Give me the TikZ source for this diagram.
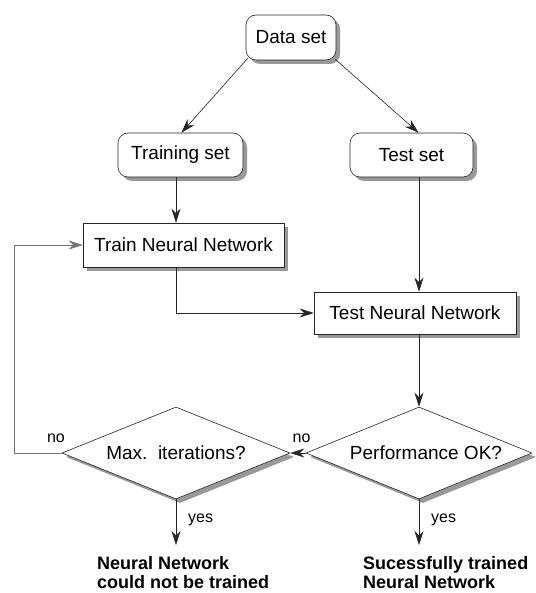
\documentclass[tikz,border=0pt]{standalone}
\usepackage{fontspec}
\setmainfont{Liberation Sans}
\usetikzlibrary{shapes.geometric,shadows,arrows.meta,calc}
\begin{document}
\begin{tikzpicture}[x=1pt,y=-1pt,
  basebox/.style={draw=black!85, line width=0.6pt, fill=white,
    drop shadow={shadow xshift=4pt, shadow yshift=-4pt, fill=black!40, opacity=1}},
  roundbox/.style={basebox, rounded corners=10pt, inner sep=0pt, font=\fontsize{19}{22}\selectfont},
  sqbox/.style={basebox, inner sep=0pt, font=\fontsize{19}{22}\selectfont},
  decision/.style={basebox, diamond, aspect=2.5, inner sep=0pt, font=\fontsize{19}{22}\selectfont},
  conn/.style={line width=0.6pt, draw=black!85, -{Stealth[length=14pt,width=9pt,inset=4.5pt]}},
  loopline/.style={conn, draw=black!55},
  lbl/.style={font=\fontsize{16}{18}\selectfont, inner sep=0pt, anchor=base},
  result/.style={font=\bfseries\fontsize{18}{19}\selectfont, align=left, inner sep=0pt, anchor=north west}]
\useasboundingbox (0,0) rectangle (535,593);
\fill[white] (0,0) rectangle (535,593);

\node[roundbox, minimum width=90pt, minimum height=45pt] (data) at (291,37.5) {Data set};
\node[roundbox, minimum width=125pt, minimum height=44pt] (trainset) at (180.5,155) {Training set};
\node[roundbox, minimum width=123pt, minimum height=44pt] (testset) at (411.5,155) {Test set};
\node[sqbox, minimum width=201pt, minimum height=44pt] (trainnn) at (183.5,245) {Train Neural Network};
\node[sqbox, minimum width=202pt, minimum height=42pt] (testnn) at (415,313) {Test Neural Network};
\node[decision, minimum width=228pt, minimum height=92pt] (maxit) at (176,453) {Max.\ \ iterations?};
\node[decision, minimum width=226pt, minimum height=92pt] (perf) at (419,453) {\hspace*{14pt}Performance OK?};

\coordinate (cl) at (176,0);
\coordinate (cr) at (419,0);
\coordinate (loopc) at (14,453);
\coordinate (endl) at (176,545);
\coordinate (endr) at (419,545);

\draw[conn] ([xshift=2pt,yshift=2pt]data.south west) -- ([xshift=1pt]trainset.north);
\draw[conn] ([xshift=-1pt,yshift=1pt]data.south east) -- ([xshift=7pt]testset.north);
\draw[conn] (trainset.south -| cl) -- (trainnn.north -| cl);
\draw[conn] (testset.south -| cr) -- (testnn.north -| cr);
\draw[conn] (trainnn.south -| cl) |- (testnn.west);
\draw[conn] (testnn.south -| cr) -- (perf.north);
\draw[conn] (perf.west) -- (maxit.east);
\draw[loopline] (maxit.west) -- (loopc) |- (trainnn.west);
\draw[conn] (maxit.south) -- (endl);
\draw[conn] (perf.south) -- (endr);

\node[lbl] (no1) at (56,442) {no};
\node[lbl] (no2) at (301.5,442) {no};
\node[lbl, anchor=base west] (yes1) at (188,522) {yes};
\node[lbl, anchor=base west] (yes2) at (431,522) {yes};
\node[result] (fail) at (97,556) {Neural Network\\could not be trained};
\node[result] (ok) at (363,556) {Sucessfully trained\\Neural Network};
\end{tikzpicture}
\end{document}
